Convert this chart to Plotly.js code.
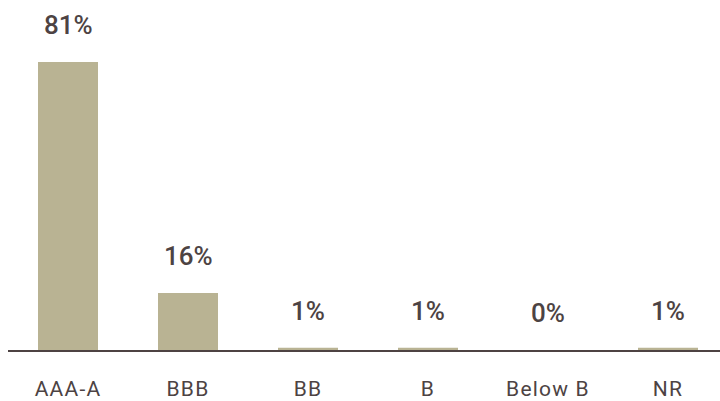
<!DOCTYPE html>
<html>
<head>
<meta charset="utf-8">
<script src="https://cdn.plot.ly/plotly-3.0.1.min.js"></script>
<style>
html,body{margin:0;padding:0;background:#fff;}
#chart{width:720px;height:401px;}
.xtick text{letter-spacing:1.2px;}
</style>
</head>
<body>
<div id="chart"></div>
<script>
const categories = ["AAA-A", "BBB", "BB", "B", "Below B", "NR"];
const values = [81, 16, 0.6, 0.6, 0, 0.6];
const labels = ["81%", "16%", "1%", "1%", "0%", "1%"];

const textColor = "#4d4343";
const barColor = "#b9b393";

const trace = {
  type: "bar",
  x: categories,
  y: values,
  width: 0.5,
  marker: {color: barColor},
  hoverinfo: "none"
};

const annotations = categories.map((c, i) => ({
  x: c, y: values[i], text: labels[i], showarrow: false,
  yanchor: "middle", yshift: 37,
  font: {family: "Roboto, 'Noto Sans', sans-serif", size: 26, color: textColor, weight: 500}
}));

const layout = {
  width: 720, height: 401,
  margin: {l: 8, r: 0, t: 0, b: 51},
  paper_bgcolor: "#ffffff", plot_bgcolor: "#ffffff",
  showlegend: false,
  bargap: 0.5,
  xaxis: {
    type: "category",
    range: [-0.5, 5.4333],
    showline: true, linecolor: textColor, linewidth: 2,
    showgrid: false, zeroline: false,
    ticks: "outside", ticklen: 19, tickcolor: "rgba(0,0,0,0)",
    tickfont: {family: "Roboto, 'Noto Sans', sans-serif", size: 21, color: textColor},
    fixedrange: true
  },
  yaxis: {
    range: [0, 98.4],
    visible: false, showgrid: false, zeroline: false, fixedrange: true
  },
  annotations: annotations
};

Plotly.newPlot("chart", [trace], layout, {displayModeBar: false, staticPlot: true});
</script>
</body>
</html>
